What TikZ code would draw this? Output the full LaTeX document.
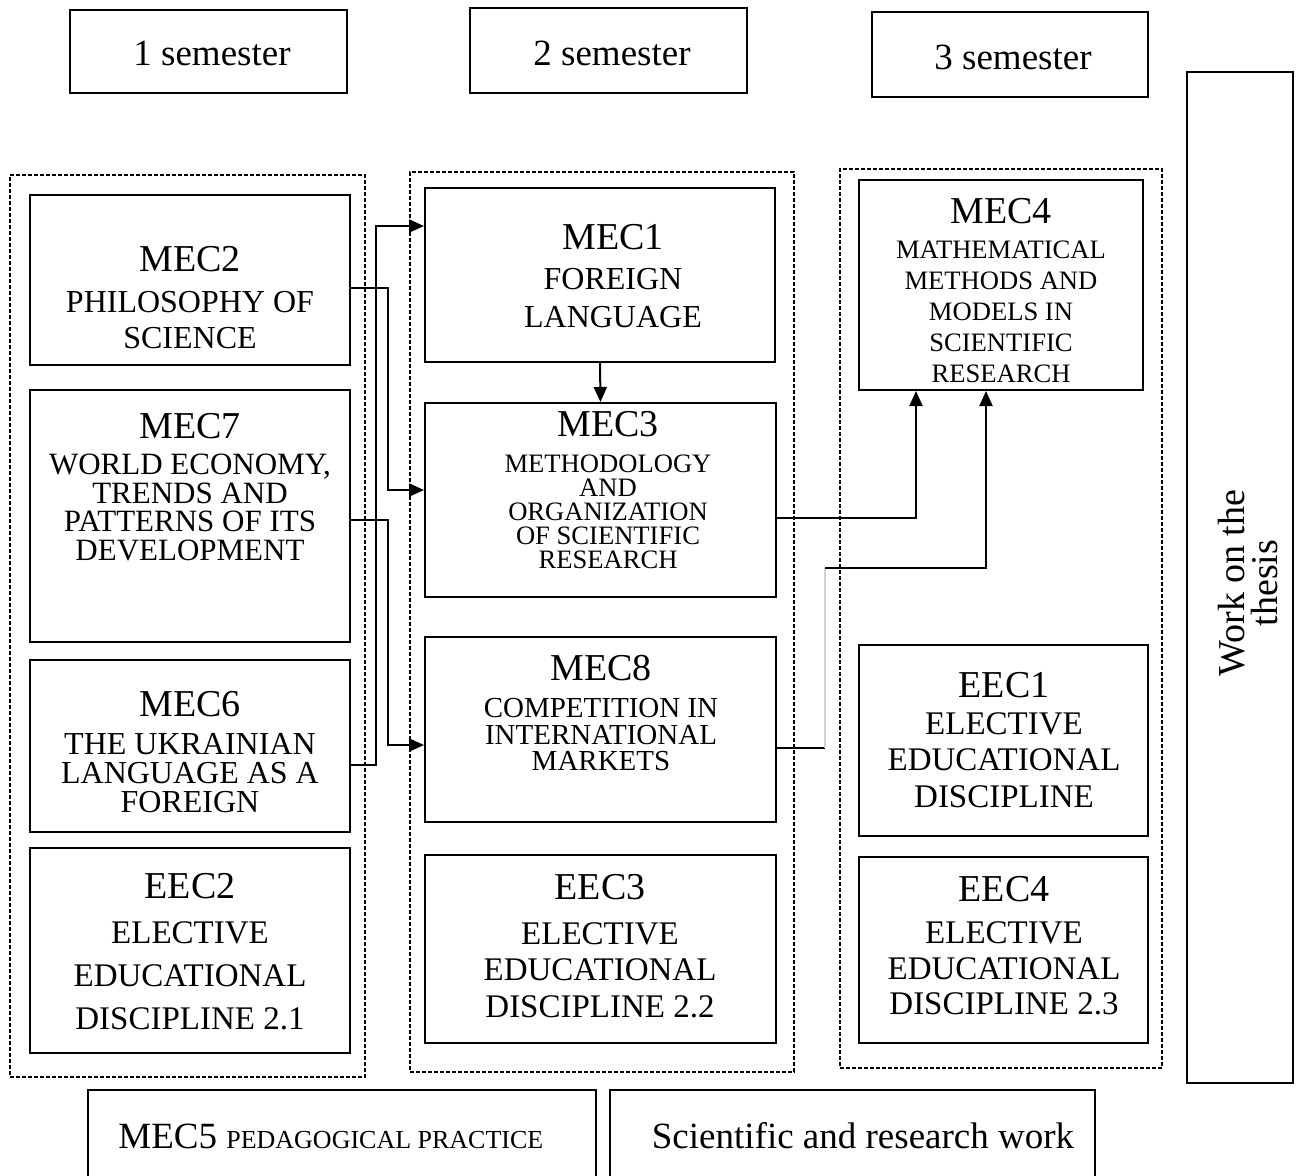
\documentclass[tikz,border=0pt]{standalone}
\usepackage{fontspec}
\setmainfont{Liberation Serif}
\usetikzlibrary{fit,arrows.meta}
\newcommand\fsz[2]{\fontsize{#1}{#2}\selectfont}
\begin{document}
\begin{tikzpicture}[x=0.5pt,y=-0.5pt,
  box/.style={draw, line width=1pt, inner sep=0pt, rectangle},
  col/.style={draw, line width=0.7pt, dash pattern=on 2pt off 1pt, inner sep=0pt, rectangle},
  conn/.style={line width=1pt, -{Triangle[length=7.5pt,width=6.5pt]}},
  wire/.style={line width=1pt},
  lbl/.style={align=center, inner sep=0pt},
  ttl/.style={font=\fsz{18.5}{22}}]
\useasboundingbox (0,0) rectangle (1301,1175);

% semester headers
\node[box, fit={(70,10) (347,93)}] (sem1) {};
\node[box, fit={(470,8) (747,93)}] (sem2) {};
\node[box, fit={(872,12) (1148,97)}] (sem3) {};
\node[lbl, ttl] (sem1t) at (212,53) {1 semester};
\node[lbl, ttl] (sem2t) at (612,53) {2 semester};
\node[lbl, ttl] (sem3t) at (1013,57) {3 semester};

% thesis
\node[box, line width=1.3pt, fit={(1187,72) (1293,1083)}] (thesis) {};
\node[lbl, rotate=90, font=\fsz{19}{16.5}] (thesist) at (1248,583) {Work on the\\thesis};

% dashed columns
\node[col, fit={(10,175) (365,1077)}] (col1) {};
\node[col, fit={(410,172) (794,1072)}] (col2) {};
\node[col, fit={(840,169) (1162,1068)}] (col3) {};

% column 1
\node[box, fit={(30,195) (350,365)}] (mec2) {};
\node[box, fit={(30,390) (350,642)}] (mec7) {};
\node[box, fit={(30,660) (350,832)}] (mec6) {};
\node[box, fit={(30,848) (350,1053)}] (eec2) {};

\node[lbl, font=\fsz{16}{18}] (mec2t) at (190,298) {{\fsz{19}{18}MEC2}\\[2.5pt]PHILOSOPHY OF\\SCIENCE};
\node[lbl, font=\fsz{15.5}{14.3}] (mec7t) at (190,487) {{\fsz{19}{14.3}MEC7}\\[3.7pt]WORLD ECONOMY,\\TRENDS AND\\PATTERNS OF ITS\\DEVELOPMENT};
\node[lbl, font=\fsz{16}{14.5}] (mec6t) at (190,752) {{\fsz{19}{14.5}MEC6}\\[4.5pt]THE UKRAINIAN\\LANGUAGE AS A\\FOREIGN};
\node[lbl, font=\fsz{16.5}{21.5}] (eec2t) at (190,952) {{\fsz{19}{21.5}EEC2}\\[1pt]ELECTIVE\\EDUCATIONAL\\DISCIPLINE 2.1};

% column 2
\node[box, fit={(425,188) (775,362)}] (mec1) {};
\node[box, fit={(425,403) (776,597)}] (mec3) {};
\node[box, fit={(425,637) (776,822)}] (mec8) {};
\node[box, fit={(425,855) (776,1043)}] (eec3) {};

\node[lbl, font=\fsz{16}{19}] (mec1t) at (613,276) {{\fsz{19}{19}MEC1}\\[1pt]FOREIGN\\LANGUAGE};
\node[lbl, font=\fsz{13.3}{12}] (mec3t) at (608,490) {{\fsz{19}{12}MEC3}\\[6pt]METHODOLOGY\\AND\\ORGANIZATION\\OF SCIENTIFIC\\RESEARCH};
\node[lbl, font=\fsz{14.5}{13.25}] (mec8t) at (601,713) {{\fsz{19}{13.25}MEC8}\\[5.25pt]COMPETITION IN\\INTERNATIONAL\\MARKETS};
\node[lbl, font=\fsz{16.5}{18.25}] (eec3t) at (600,946) {{\fsz{19}{18.25}EEC3}\\[4.25pt]ELECTIVE\\EDUCATIONAL\\DISCIPLINE 2.2};

% column 3
\node[box, fit={(859,180) (1143,390)}] (mec4) {};
\node[box, fit={(859,645) (1148,836)}] (eec1) {};
\node[box, fit={(859,857) (1148,1043)}] (eec4) {};

\node[lbl, font=\fsz{13.3}{15.5}] (mec4t) at (1001,291) {{\fsz{19}{15.5}MEC4}\\[2pt]MATHEMATICAL\\METHODS AND\\MODELS IN\\SCIENTIFIC\\RESEARCH};
\node[lbl, font=\fsz{16.5}{18.25}] (eec1t) at (1004,740) {{\fsz{19}{18.25}EEC1}\\ELECTIVE\\EDUCATIONAL\\DISCIPLINE};
\node[lbl, font=\fsz{16.5}{17.75}] (eec4t) at (1004,946) {{\fsz{19}{17.75}EEC4}\\[3.25pt]ELECTIVE\\EDUCATIONAL\\DISCIPLINE 2.3};

% bottom boxes
\node[box, fit={(88,1090) (596,1190)}] (mec5) {};
\node[box, fit={(610,1090) (1095,1190)}] (sci) {};
\node[lbl, anchor=west] (mec5t) at (118,1136) {\fsz{18.5}{22}MEC5 {\fsz{13}{16}PEDAGOGICAL PRACTICE}};
\node[lbl, ttl] (scit) at (863,1136) {Scientific and research work};

% connectors
\draw[conn] ([yshift=-4pt]mec2.east) -- ++(37,0) |- ([yshift=5pt]mec3.west);
\draw[conn] ([yshift=-2pt]mec7.east) -- ++(37,0) |- ([yshift=-7.75pt]mec8.west);
\draw[conn] ([yshift=-9.5pt]mec6.east) -- ++(25,0) |- ([yshift=24.5pt]mec1.west);
\draw[conn] (mec1.south) -- (mec3.north);
\draw[conn] ([yshift=-9pt]mec3.east) -| ([xshift=-42.5pt]mec4.south);
\draw[wire] ([yshift=-9.25pt]mec8.east) -- ++(48,0) coordinate (b1);
\draw[line width=1pt, gray!35] (b1) -- ++(0,-180) coordinate (b2);
\draw[conn] (b2) -| ([xshift=-7.5pt]mec4.south);
\end{tikzpicture}
\end{document}
